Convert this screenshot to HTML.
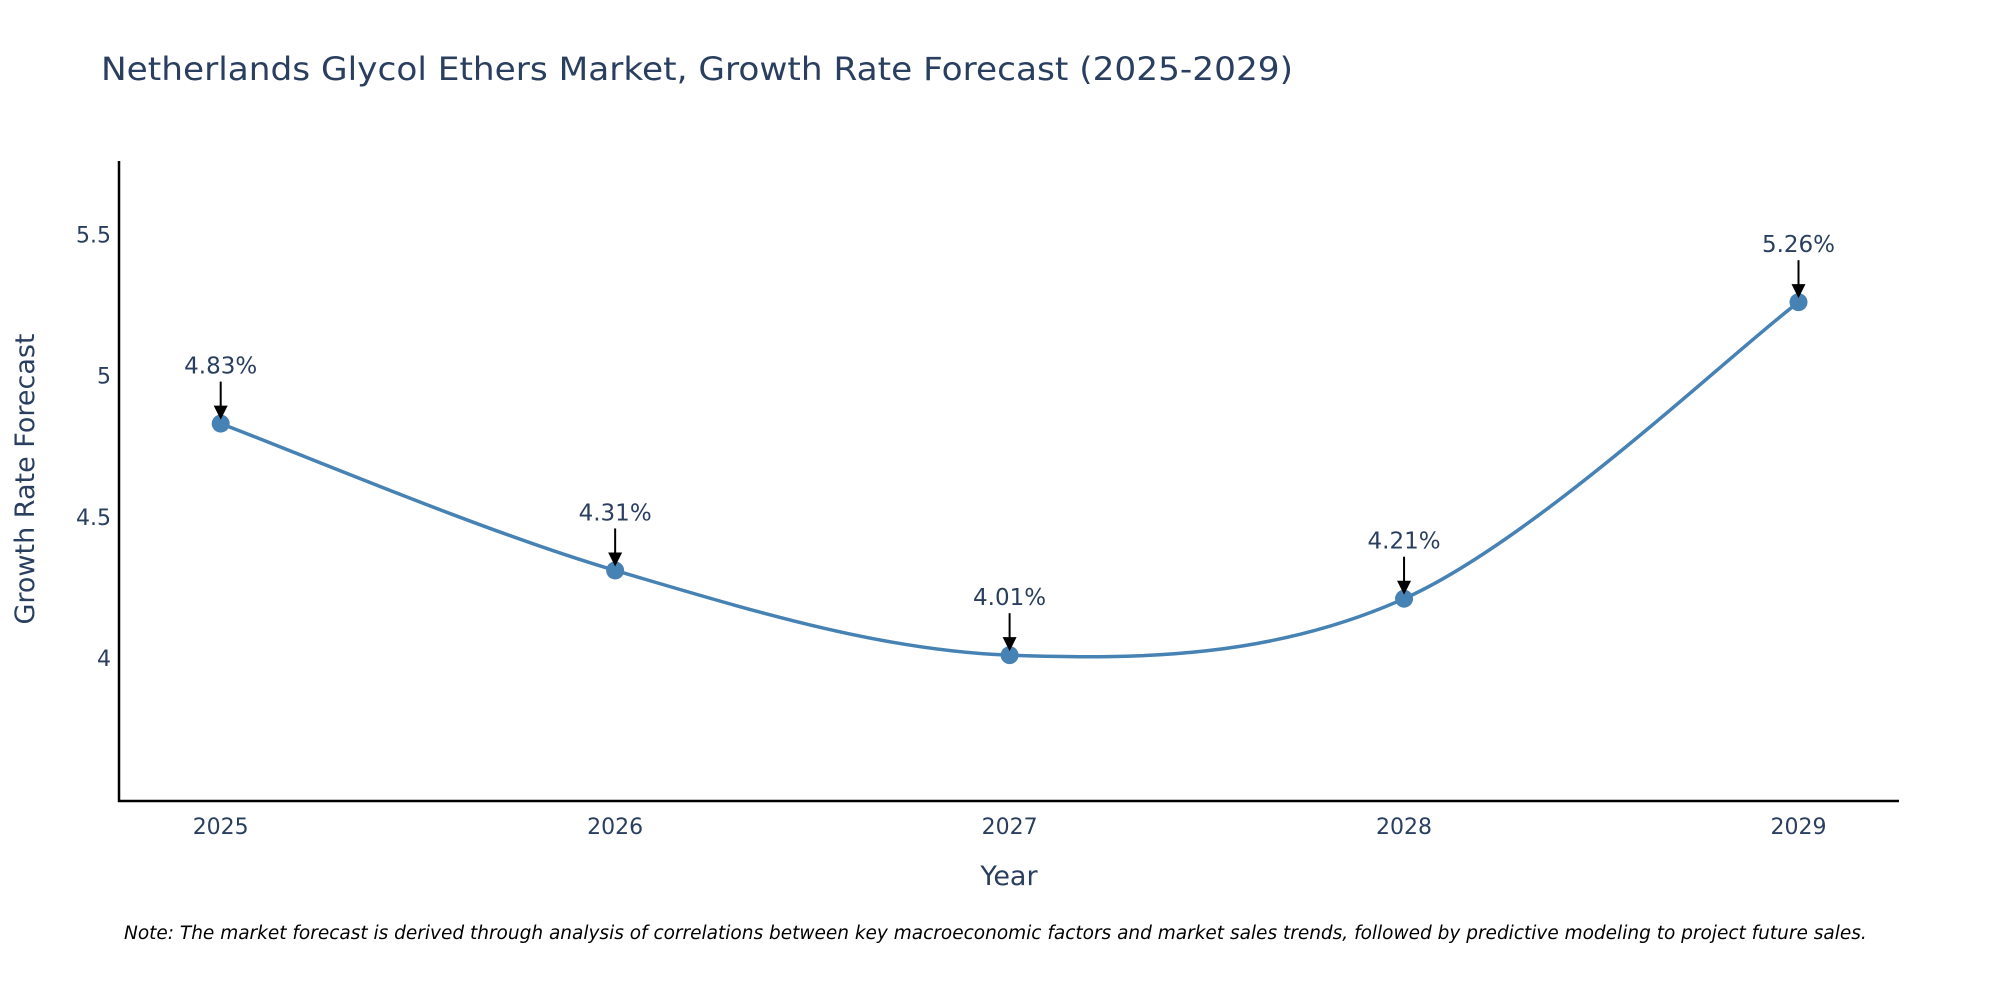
<!DOCTYPE html>
<html><head><meta charset="utf-8"><style>
body{margin:0;background:#fff;}
svg{display:block;font-family:"DejaVu Sans","Liberation Sans",sans-serif;}
</style></head><body>
<svg id="chart" width="2000" height="1000" viewBox="0 0 2000 1000" xmlns="http://www.w3.org/2000/svg">
<text x="101" y="80" font-size="32" fill="#2a3f5f" textLength="1192" lengthAdjust="spacingAndGlyphs">Netherlands Glycol Ethers Market, Growth Rate Forecast (2025-2029)</text>
<g id="yticks"></g>
<g id="xticks"></g>
<line x1="119" y1="161" x2="119" y2="802" stroke="#000" stroke-width="2.5"/>
<line x1="118" y1="801" x2="1899" y2="801" stroke="#000" stroke-width="2.5"/>
<path id="line" fill="none" stroke="#4682B4" stroke-width="3.5"/>
<g id="marks"></g>
<text x="1009" y="885" font-size="27" fill="#2a3f5f" text-anchor="middle">Year</text>
<text transform="translate(34,479) rotate(-90)" font-size="27" fill="#2a3f5f" text-anchor="middle">Growth Rate Forecast</text>
<text x="124" y="939" font-size="18.5" font-style="italic" fill="#000">Note: The market forecast is derived through analysis of correlations between key macroeconomic factors and market sales trends, followed by predictive modeling to project future sales.</text>
</svg>
<script>
const categories=[2025,2026,2027,2028,2029];
const values=[4.83,4.31,4.01,4.21,5.26];
const labels=["4.83%","4.31%","4.01%","4.21%","5.26%"];
const yTicks=[4,4.5,5,5.5];
const yTickLabels=["4","4.5","5","5.5"];
const NS="http://www.w3.org/2000/svg";
const x=v=>220.7+(v-2025)*394.45;
const y=v=>658-(v-4)*282.4;
function mk(tag,attrs,parent,text){const e=document.createElementNS(NS,tag);for(const k in attrs)e.setAttribute(k,attrs[k]);if(text!==undefined)e.textContent=text;parent.appendChild(e);return e;}
const yt=document.getElementById('yticks');
yTicks.forEach((t,i)=>{const e=mk('text',{x:111,y:y(t)+8,'font-size':22,fill:'#2a3f5f','text-anchor':'end'},yt,yTickLabels[i]);

});
const xt=document.getElementById('xticks');
categories.forEach(c=>{const e=mk('text',{x:x(c),y:834,'font-size':22,fill:'#2a3f5f','text-anchor':'middle'},xt,String(c));

});
const P=categories.map((c,i)=>[x(c),y(values[i])]);
let d=`M${P[0][0]},${P[0][1]}`;
for(let i=0;i<P.length-1;i++){const p0=P[i-1]||P[i],p1=P[i],p2=P[i+1],p3=P[i+2]||P[i+1];const k=6;
d+=` C${p1[0]+(p2[0]-p0[0])/k},${p1[1]+(p2[1]-p0[1])/k} ${p2[0]-(p3[0]-p1[0])/k},${p2[1]-(p3[1]-p1[1])/k} ${p2[0]},${p2[1]}`;}
document.getElementById('line').setAttribute('d',d);
const g=document.getElementById('marks');
P.forEach((p,i)=>{
const c=mk('circle',{cx:p[0],cy:p[1],r:9,fill:'#4682B4'},g);


const l=mk('line',{x1:p[0],y1:p[1]-42,x2:p[0],y2:p[1]-16,stroke:'#000','stroke-width':2},g);


const a=mk('path',{d:`M${p[0]-7},${p[1]-18} L${p[0]+7},${p[1]-18} L${p[0]},${p[1]-4} Z`,fill:'#000'},g);


const t=mk('text',{x:p[0],y:p[1]-50,'font-size':23,fill:'#2a3f5f','text-anchor':'middle'},g,labels[i]);


});
</script>
</body></html>
